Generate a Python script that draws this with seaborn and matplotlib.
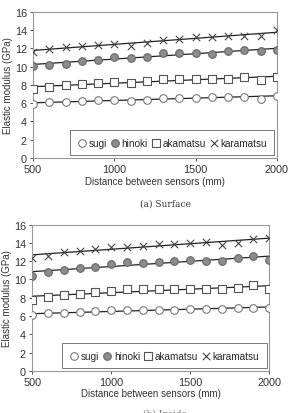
import numpy as np
import pandas as pd
import seaborn as sns
import matplotlib
matplotlib.use('Agg')
import matplotlib.pyplot as plt

# distance between sensors (mm)
distance = [500, 600, 700, 800, 900, 1000, 1100, 1200, 1300, 1400, 1500, 1600, 1700, 1800, 1900, 2000]

# (a) surface
surf_sugi = [5.9, 6.1, 6.1, 6.2, 6.3, 6.4, 6.2, 6.4, 6.6, 6.6, 6.6, 6.7, 6.7, 6.7, 6.5, 6.8]
surf_hinoki = [10.1, 10.2, 10.3, 10.6, 10.7, 11.1, 11.0, 11.1, 11.5, 11.5, 11.5, 11.4, 11.7, 11.8, 11.7, 11.8]
surf_akamatsu = [7.5, 7.8, 8.0, 8.1, 8.2, 8.3, 8.2, 8.4, 8.6, 8.6, 8.6, 8.7, 8.7, 8.9, 8.5, 8.9]
surf_karamatsu = [11.6, 11.9, 12.2, 12.3, 12.4, 12.5, 12.3, 12.6, 12.9, 13.0, 13.2, 13.2, 13.4, 13.4, 13.4, 14.0]

# (b) second measurement
int_sugi = [6.1, 6.3, 6.3, 6.4, 6.5, 6.6, 6.6, 6.6, 6.7, 6.7, 6.8, 6.8, 6.8, 6.9, 6.9, 6.9]
int_hinoki = [10.4, 10.8, 11.0, 11.2, 11.4, 11.7, 11.9, 11.8, 11.9, 12.0, 12.1, 12.0, 12.0, 12.3, 12.6, 12.1]
int_akamatsu = [7.8, 8.1, 8.3, 8.4, 8.6, 8.7, 8.9, 8.9, 8.9, 8.9, 8.9, 8.9, 9.0, 9.1, 9.4, 9.0]
int_karamatsu = [12.3, 12.6, 13.0, 13.1, 13.3, 13.5, 13.6, 13.7, 13.9, 13.9, 14.0, 14.1, 13.8, 14.0, 14.4, 14.5]

species = ['sugi', 'hinoki', 'akamatsu', 'karamatsu']

sns.set_style('white')
plt.rcParams['font.family'] = ['Liberation Sans', 'DejaVu Sans']
plt.rcParams['font.size'] = 7

styles = {
    'sugi': dict(marker='o', facecolor='white', edgecolor='#777777'),
    'hinoki': dict(marker='o', facecolor='#8c8c8c', edgecolor='#666666'),
    'akamatsu': dict(marker='s', facecolor='white', edgecolor='#555555'),
    'karamatsu': dict(marker='x', facecolor='#444444', edgecolor='#444444'),
}


def make_df(vals):
    rows = []
    for sp, v in zip(species, vals):
        for d, e in zip(distance, v):
            rows.append({'distance': d, 'modulus': e, 'species': sp})
    return pd.DataFrame(rows)


def draw(ax, df):
    for sp in species:
        sub = df[df['species'] == sp]
        st = styles[sp]
        sns.regplot(data=sub, x='distance', y='modulus', scatter=False, ci=None,
                    ax=ax, line_kws=dict(color='#222222', lw=0.9))
        if st['marker'] == 'x':
            sns.scatterplot(data=sub, x='distance', y='modulus', ax=ax, marker='x',
                            color=st['edgecolor'], s=28, linewidth=0.8,
                            label=sp, zorder=3)
        else:
            sns.scatterplot(data=sub, x='distance', y='modulus', ax=ax,
                            marker=st['marker'], facecolor=st['facecolor'],
                            edgecolor=st['edgecolor'], s=30 if st['marker'] == 'o' else 26,
                            linewidth=0.8, label=sp, zorder=3)
    ax.set_xlim(500, 2000)
    ax.set_ylim(0, 16)
    ax.set_xticks([500, 1000, 1500, 2000])
    ax.set_yticks(range(0, 17, 2))
    ax.set_xlabel('Distance between sensors (mm)', fontsize=7, color='#333333', labelpad=1)
    ax.set_ylabel('Elastic modulus (GPa)', fontsize=7, color='#333333', labelpad=1)
    ax.tick_params(axis='both', labelsize=7.8, colors='#333333', length=2.5, width=0.6,
                   direction='out', pad=2, left=True, bottom=True)
    for s in ax.spines.values():
        s.set_color('#999999')
        s.set_linewidth(0.8)
    leg = ax.legend(loc='lower right', ncol=4, fontsize=7.2, frameon=True, fancybox=False,
                    handletextpad=0.15, columnspacing=0.3, borderpad=0.75,
                    handlelength=1.0, borderaxespad=0.25)
    leg.get_frame().set_edgecolor('#555555')
    leg.get_frame().set_linewidth(0.7)


fig = plt.figure(figsize=(2.9, 4.14), dpi=100)
ax1 = fig.add_axes([0.114, 0.616, 0.841, 0.353])
ax2 = fig.add_axes([0.111, 0.102, 0.817, 0.353])

draw(ax1, make_df([surf_sugi, surf_hinoki, surf_akamatsu, surf_karamatsu]))
draw(ax2, make_df([int_sugi, int_hinoki, int_akamatsu, int_karamatsu]))

fig.text(0.57, 0.507, '(a) Surface', ha='center', va='center', fontsize=6.5,
         family='DejaVu Serif', color='#333333')
fig.text(0.57, 0.0, '(b) Inside', ha='center', va='center', fontsize=6.5,
         family='DejaVu Serif', color='#777777')

fig.savefig('out.png', dpi=100)
